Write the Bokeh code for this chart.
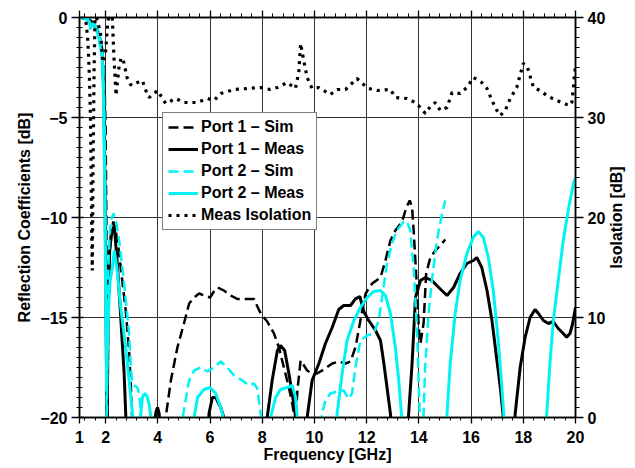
import math
from bokeh.plotting import figure
from bokeh.models import Range1d, LinearAxis, FixedTicker, Legend, LegendItem, Label
from bokeh.embed import file_html
from bokeh.resources import INLINE
import numpy as np

FONT = "Liberation Sans"
CYAN = "#00f4f4"

# ---------------- data ----------------
x_ticks = [1, 2, 4, 6, 8, 10, 12, 14, 16, 18, 20]
x_tick_labels = ["1", "2", "4", "6", "8", "10", "12", "14", "16", "18", "20"]
left_ticks = [-20, -15, -10, -5, 0]
left_tick_labels = ["\u221220", "\u221215", "\u221210", "\u22125", "0"]
right_ticks = [0, 10, 20, 30, 40]
right_tick_labels = ["0", "10", "20", "30", "40"]

p1_sim_f = [1.0, 1.3, 1.5, 1.7, 1.85, 1.95, 2.0, 2.04, 2.07, 2.1, 2.15, 2.22, 2.3, 2.38, 2.5,
            2.65, 2.77, 2.9, 2.97, 3.02, 3.5, 4.0, 4.3, 4.5, 4.75, 5.0, 5.2, 5.39, 5.58, 5.77,
            6.0, 6.15, 6.3, 6.53, 6.79, 7.04, 7.36, 7.68, 7.94, 8.19, 8.45, 8.64, 8.83, 9.02,
            9.15, 9.21, 9.26, 9.35, 9.47, 9.55, 9.72, 9.91, 10.10, 10.36, 10.68, 10.93, 11.19,
            11.38, 11.57, 11.76, 11.96, 12.21, 12.53, 12.72, 12.91, 13.10, 13.36, 13.52, 13.65,
            13.74, 13.80, 13.91, 14.0, 14.06, 14.18, 14.28, 14.44, 14.63, 14.82, 15.01]
p1_sim_db = [0, -0.05, -0.2, -0.6, -1.3, -2.8, -5.5, -12, -21, -14, -11.8, -10.6, -10.2, -10.6,
             -11.6, -13.3, -14.65, -16.65, -18.5, -20.2, -25, -25, -20.0, -18.15, -16.5, -15.3,
             -14.3, -14.0, -13.8, -13.9, -14.0, -13.7, -13.5, -13.65, -13.9, -14.07, -14.07,
             -14.07, -14.8, -15.2, -15.8, -16.5, -17.5, -18.5, -19.3, -19.8, -20.3, -18.6,
             -17.15, -17.3, -17.65, -17.8, -17.8, -17.6, -17.3, -17.2, -17.3, -17.2, -16.5,
             -15.15, -13.8, -13.3, -13.0, -12.15, -11.15, -10.65, -10.2, -9.5, -9.15, -9.5,
             -10.65, -13.15, -15.6, -16.3, -15.3, -12.8, -12.0, -11.65, -11.4, -11.1]

p1_meas_f = [1.0, 1.3, 1.5, 1.7, 1.85, 1.93, 1.98, 2.03, 2.06, 2.1, 2.16, 2.24, 2.33, 2.46,
             2.58, 2.71, 2.77, 2.8, 3.5, 3.85, 3.93, 3.99, 4.05, 4.1, 5.0, 5.93, 5.96, 6.09,
             6.22, 6.41, 6.53, 6.6, 7.5, 8.15, 8.19, 8.38, 8.58, 8.70, 8.86, 9.02, 9.15, 9.28,
             9.32, 9.5, 9.72, 9.91, 10.17, 10.42, 10.68, 10.93, 11.12, 11.38, 11.57, 11.74,
             11.89, 12.08, 12.34, 12.53, 12.66, 12.78, 12.91, 12.95, 13.3, 13.58, 13.61, 13.74,
             13.87, 14.06, 14.25, 14.50, 14.76, 15.08, 15.33, 15.58, 15.84, 16.09, 16.22,
             16.41, 16.61, 16.80, 16.99, 17.12, 17.22, 17.26, 17.5, 17.66, 17.69, 17.88, 18.07,
             18.26, 18.45, 18.58, 18.77, 18.96, 19.15, 19.34, 19.53, 19.66, 19.79, 19.89, 20.0]
p1_meas_db = [0, -0.05, -0.25, -0.7, -1.5, -3.5, -9, -17, -20.5, -14, -11.6, -10.7, -10.4,
              -12.5, -15.0, -17.8, -19.8, -21, -25, -20.6, -19.7, -19.5, -19.8, -20.6, -25,
              -20.6, -19.8, -19.0, -19.0, -19.5, -20.0, -20.6, -25, -20.6, -20.0, -18.15,
              -16.65, -16.4, -16.65, -17.8, -18.8, -20.0, -20.6, -21.5, -20.0, -18.15, -17.3,
              -16.3, -15.5, -14.6, -14.4, -14.4, -14.07, -13.95, -14.7, -15.15, -15.65, -16.15,
              -17.3, -18.5, -19.8, -20.6, -25, -20.6, -19.8, -17.3, -14.0, -13.15, -13.0,
              -13.15, -13.5, -13.9, -13.5, -12.8, -12.3, -12.15, -12.0, -12.5, -13.65, -15.15,
              -17.15, -18.5, -19.8, -20.6, -25, -20.6, -19.8, -17.5, -16.0, -15.0, -14.6,
              -14.8, -15.15, -15.3, -15.2, -15.55, -15.8, -15.98, -15.8, -15.3, -14.5]

p2_sim_f = [1.0, 1.3, 1.5, 1.7, 1.85, 1.92, 1.97, 2.01, 2.04, 2.08, 2.14, 2.2, 2.3, 2.4, 2.52,
            2.71, 2.9, 2.97, 3.03, 3.1, 3.22, 3.28, 3.35, 3.4, 4.0, 4.9, 4.95, 5.2, 5.39, 5.64,
            5.9, 6.15, 6.41, 6.66, 6.92, 7.24, 7.49, 7.68, 7.81, 7.94, 8.0, 9.0, 10.2, 10.29,
            10.42, 10.61, 10.87, 11.12, 11.31, 11.44, 11.57, 11.76, 12.02, 12.27, 12.46, 12.59,
            12.78, 12.97, 13.16, 13.42, 13.55, 13.67, 13.80, 13.93, 13.99, 14.03, 14.07, 14.1,
            14.15, 14.18, 14.24, 14.37, 14.50, 14.69, 14.89, 15.01]
p2_sim_db = [0, -0.05, -0.2, -0.6, -1.3, -2.5, -6, -13, -20.5, -13.5, -11.2, -10.15, -9.8,
             -10.2, -11.15, -13.3, -15.8, -17.6, -18.3, -18.4, -18.5, -18.8, -19.7, -20.6, -25,
             -21, -20.0, -18.15, -17.65, -17.5, -17.7, -17.5, -17.2, -17.5, -17.9, -18.15,
             -18.4, -18.3, -18.55, -19.8, -20.6, -25, -21, -19.8, -19.15, -18.8, -18.7, -18.65,
             -19.07, -18.8, -17.5, -16.15, -15.9, -15.8, -15.15, -14.0, -12.3, -11.3, -10.65,
             -10.2, -10.2, -10.65, -12.5, -15.65, -18.15, -19.8, -21, -23, -21, -19.8, -17.5,
             -14.8, -13.15, -11.15, -9.8, -9.15]

p2_meas_f = [1.0, 1.2, 1.38, 1.43, 1.47, 1.52, 1.62, 1.74, 1.8, 1.87, 1.92, 1.97, 2.01, 2.04,
             2.07, 2.12, 2.17, 2.26, 2.33, 2.43, 2.58, 2.77, 2.9, 3.03, 3.08, 3.3, 3.35, 3.41,
             3.47, 3.53, 3.6, 3.66, 3.73, 3.78, 4.5, 5.3, 5.39, 5.52, 5.77, 6.0, 6.22, 6.41,
             6.51, 6.56, 7.5, 8.26, 8.32, 8.51, 8.70, 8.96, 9.15, 9.28, 9.34, 9.4, 10.0, 10.82,
             10.87, 11.06, 11.25, 11.51, 11.76, 12.02, 12.27, 12.53, 12.72, 12.91, 13.10, 13.23,
             13.33, 13.38, 14.2, 15.04, 15.08, 15.20, 15.39, 15.58, 15.84, 16.09, 16.28, 16.47,
             16.66, 16.85, 17.04, 17.16, 17.25, 17.3, 18.0, 18.85, 18.9, 19.02, 19.15, 19.34,
             19.53, 19.72, 19.92, 20.0]
p2_meas_db = [0, -0.05, -0.2, -0.6, -0.35, -0.3, -0.5, -1.0, -1.5, -1.9, -4, -9, -15, -18.7,
              -16.5, -14.5, -13.2, -12.5, -11.65, -12.5, -14.5, -16.5, -18.15, -19.8, -20.6,
              -20.6, -19.8, -19.0, -18.85, -18.8, -19.0, -19.3, -19.9, -20.6, -25, -20.6, -20.0,
              -19.0, -18.6, -18.5, -18.8, -19.5, -20.0, -20.6, -25, -20.6, -20.0, -19.0, -18.6,
              -18.5, -18.4, -19.0, -20.0, -20.6, -25, -20.6, -19.8, -17.8, -16.15, -15.15,
              -14.5, -14.0, -13.7, -13.65, -13.9, -14.8, -16.5, -18.15, -19.8, -20.6, -25,
              -20.6, -19.8, -17.3, -14.8, -13.15, -11.8, -10.98, -10.7, -11.0, -12.0, -13.65,
              -16.15, -18.15, -19.8, -20.6, -25, -20.6, -19.8, -17.3, -15.15, -13.15, -11.15,
              -9.65, -8.3, -8.0]

iso_f = [1.0, 1.2, 1.25, 1.31, 1.35, 1.38, 1.42, 1.45, 1.47, 1.49, 1.52, 1.56, 1.6, 1.8, 1.9,
         2.0, 2.08, 2.15, 2.25, 2.32, 2.4, 2.45, 2.52, 2.6, 2.7, 2.82, 2.95, 3.02, 3.22, 3.41,
         3.54, 3.67, 3.99, 4.3, 4.69, 5.0, 5.5, 5.9, 6.15, 6.41, 6.92, 7.43, 7.94, 8.3, 8.58,
         8.96, 9.27, 9.40, 9.47, 9.59, 9.72, 9.91, 10.17, 10.61, 10.87, 11.19, 11.63, 11.83,
         12.08, 12.40, 12.91, 13.10, 13.55, 13.86, 14.06, 14.25, 14.44, 14.63, 14.82, 15.08,
         15.27, 15.58, 15.84, 16.09, 16.41, 16.61, 16.80, 16.99, 17.12, 17.31, 17.50, 17.75,
         18.0, 18.14, 18.39, 18.64, 18.96, 19.28, 19.66, 19.79, 19.86, 19.92, 19.97, 20.0]
iso_db = [41, 40.2, 39.5, 38, 36, 34, 30, 24, 18, 14.7, 25, 35, 40.5, 38.5, 35.5, 36.5, 39.5,
          40.5, 40.5, 36, 32.2, 33.5, 35.2, 36.0, 35.5, 34.0, 33.3, 33.2, 33.5, 33.7, 32.7,
          32.0, 32.7, 31.4, 31.9, 31.5, 31.5, 31.9, 31.7, 32.4, 32.8, 32.9, 33.0, 32.8, 33.0,
          33.5, 32.9, 34.5, 37.4, 35.7, 34.0, 32.9, 33.0, 32.3, 32.8, 32.8, 33.9, 33.4, 32.9,
          32.7, 32.8, 32.0, 31.9, 31.5, 31.0, 30.4, 31.1, 31.5, 30.7, 31.0, 32.5, 32.4, 33.0,
          34.0, 33.5, 32.9, 31.7, 30.7, 30.2, 30.7, 31.9, 33.0, 35.4, 35.2, 33.0, 32.7, 32.1,
          31.7, 31.3, 31.2, 31.5, 33.0, 34.5, 35.0]

legend_labels = ["Port 1 \u2013 Sim", "Port 1 \u2013 Meas", "Port 2 \u2013 Sim",
                 "Port 2 \u2013 Meas", "Meas Isolation"]
right_axis_title = "Isolation [dB]"

# ---------------- figure ----------------
p = figure(width=635, height=468, x_range=Range1d(1, 20), y_range=Range1d(-20, 0),
           output_backend="svg", toolbar_location=None,
           min_border_left=79, min_border_right=60, min_border_top=17, min_border_bottom=51)
p.extra_y_ranges = {"iso": Range1d(0, 40)}
p.outline_line_color = "black"
p.outline_line_width = 1.5
p.background_fill_color = "white"
p.border_fill_color = "white"

x_minor = [round(v, 2) for v in np.arange(1.2, 20.0, 0.4) if abs(v / 2 - round(v / 2)) > 1e-6]
left_minor = [round(v, 2) for v in np.arange(-20, 0.01, 0.5)]
right_minor = list(range(0, 41))


def style_axis(ax, ticks, labels, minor, tin, tout, mtin, mtout, show_labels=True):
    ax.ticker = FixedTicker(ticks=ticks, minor_ticks=minor)
    ax.major_label_overrides = {t: l for t, l in zip(ticks, labels)}
    ax.major_label_text_font = FONT
    ax.major_label_text_font_style = "bold"
    ax.major_label_text_font_size = "16px" if show_labels else "0px"
    ax.major_label_text_color = "black"
    ax.axis_line_color = "black"
    ax.axis_line_width = 1.5
    ax.major_tick_line_color = "black"
    ax.minor_tick_line_color = "black"
    ax.major_tick_line_width = 1.3
    ax.minor_tick_line_width = 1.0
    ax.major_tick_in = tin
    ax.major_tick_out = tout
    ax.minor_tick_in = mtin
    ax.minor_tick_out = mtout
    ax.axis_label_text_font = FONT
    ax.axis_label_text_font_style = "bold"
    ax.axis_label_text_font_size = "16px"
    ax.axis_label_text_color = "black"


xax = p.xaxis[0]
style_axis(xax, x_ticks, x_tick_labels, x_minor, 0, 6, 0, 3)
xax.axis_label = "Frequency [GHz]"
xax.major_label_standoff = 7
xax.axis_label_standoff = 0

yax = p.yaxis[0]
style_axis(yax, left_ticks, left_tick_labels, left_minor, 4, 8, 3, 3)
yax.axis_label = "Reflection Coefficients [dB]"
yax.major_label_standoff = 4
yax.axis_label_standoff = 4

rax = LinearAxis(y_range_name="iso")
style_axis(rax, right_ticks, right_tick_labels, right_minor, 0, 8, 0, 4)
rax.major_label_standoff = 4
p.add_layout(rax, "right")

# right-axis title, reading bottom-to-top as in the reference
rtitle = Label(x=8, y=200, x_units="screen", y_units="screen", text=right_axis_title,
               angle=math.pi / 2, text_align="center", text_baseline="middle",
               text_font=FONT, text_font_style="bold", text_font_size="16px",
               text_color="black")
p.add_layout(rtitle, "right")

tax = LinearAxis()
style_axis(tax, x_ticks, ["" for _ in x_ticks], x_minor, 0, 7, 0, 4, show_labels=False)
p.add_layout(tax, "above")

p.xgrid.ticker = FixedTicker(ticks=[t for t in x_ticks if 1 < t < 20])
p.ygrid.ticker = FixedTicker(ticks=[t for t in left_ticks if -20 < t < 0])
for g in (p.xgrid[0], p.ygrid[0]):
    g.grid_line_color = "#333333"
    g.grid_line_width = 1.0

# ---------------- lines ----------------
r1 = p.line(p1_sim_f, p1_sim_db, line_color="black", line_width=2.5, line_dash="10 5")
r2 = p.line(p1_meas_f, p1_meas_db, line_color="black", line_width=3)
r3 = p.line(p2_sim_f, p2_sim_db, line_color=CYAN, line_width=2.5, line_dash="10 5")
r4 = p.line(p2_meas_f, p2_meas_db, line_color=CYAN, line_width=3)
r5 = p.line(iso_f, iso_db, line_color="black", line_width=3.2, line_dash="3 5",
            y_range_name="iso")

legend = Legend(items=[LegendItem(label=l, renderers=[r]) for l, r in
                       zip(legend_labels, [r1, r2, r3, r4, r5])],
                location=(83, 187))
legend.label_text_font = FONT
legend.label_text_font_style = "bold"
legend.label_text_font_size = "16px"
legend.label_text_color = "black"
legend.glyph_width = 30
legend.glyph_height = 16
legend.label_height = 16
legend.label_standoff = 3
legend.spacing = 4
legend.padding = 5
legend.margin = 0
legend.border_line_color = "black"
legend.border_line_width = 1.5
legend.background_fill_color = "white"
legend.background_fill_alpha = 1.0
p.add_layout(legend, "center")

open("out.html", "w").write(file_html(p, INLINE))
